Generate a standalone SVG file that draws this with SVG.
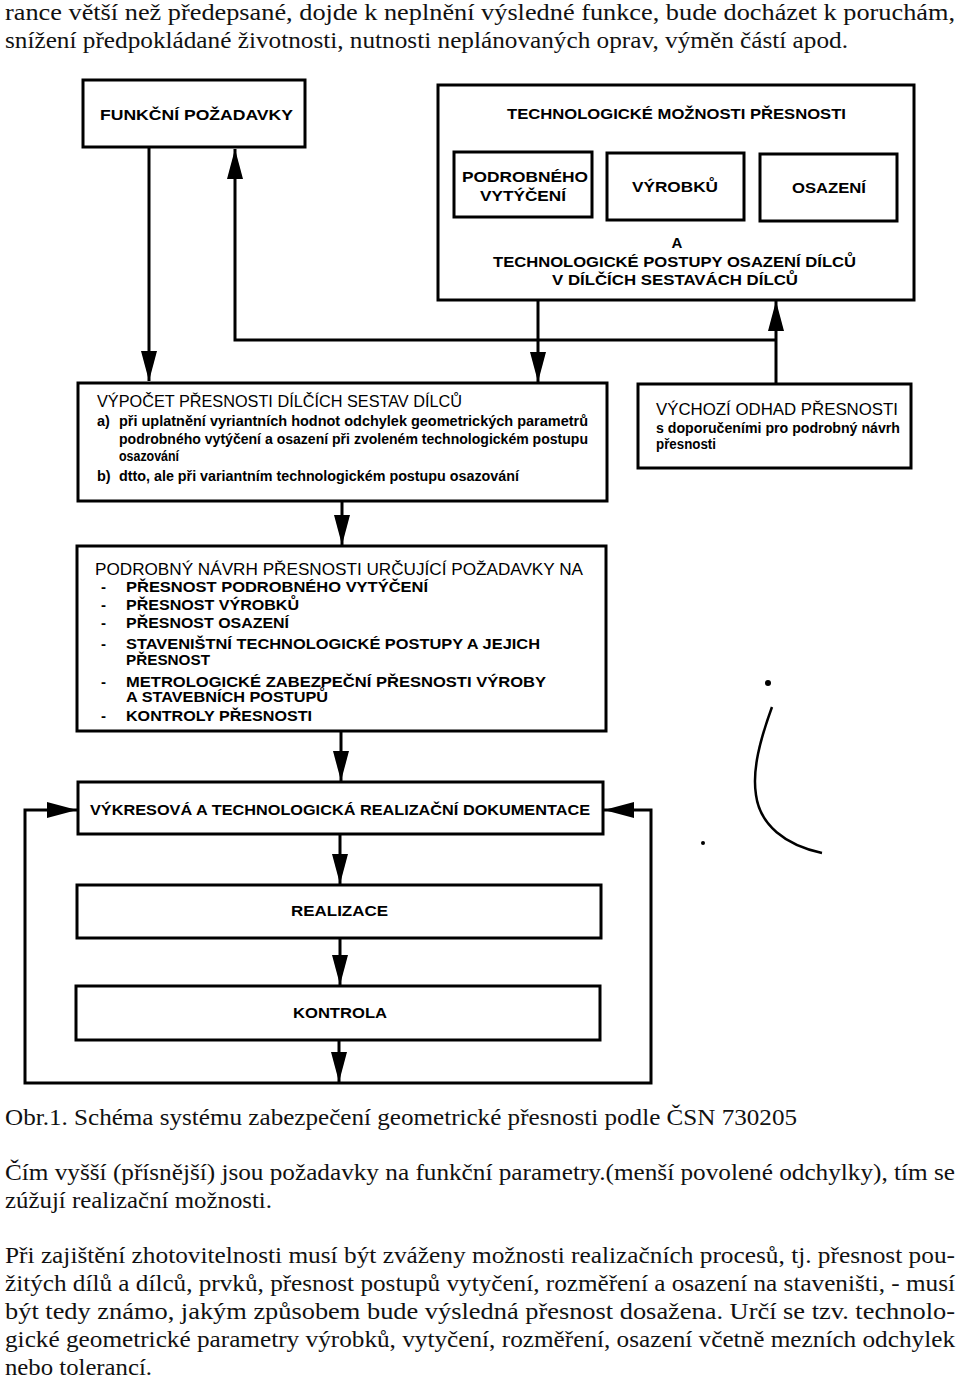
<svg xmlns="http://www.w3.org/2000/svg" width="960" height="1379" viewBox="0 0 960 1379">
<style>
.body{font-family:"Liberation Serif","Times New Roman",serif;font-size:24px;fill:#111}
.b{font-family:"Liberation Sans",Arial,sans-serif;font-weight:bold;font-size:15px;fill:#000}
.s{font-family:"Liberation Sans",Arial,sans-serif;font-weight:bold;font-size:14.5px;fill:#000}
.t{font-family:"Liberation Sans",Arial,sans-serif;font-weight:normal;font-size:16.5px;fill:#000}
.box{fill:#fff;stroke:#000;stroke-width:3}
.con{fill:none;stroke:#000;stroke-width:3}
</style>
<defs>
<marker id="ah" markerWidth="30" markerHeight="16" refX="30" refY="8" orient="auto" markerUnits="userSpaceOnUse">
<path d="M0,0 L30,8 L0,16 z" fill="#000"/>
</marker>
</defs>
<rect width="960" height="1379" fill="#fff"/>

<g id="text-top">
<text class="body" x="5" y="20" textLength="950" lengthAdjust="spacingAndGlyphs">rance větší než předepsané, dojde k neplnění výsledné funkce, bude docházet k poruchám,</text>
<text class="body" x="5" y="48" textLength="843" lengthAdjust="spacingAndGlyphs">snížení předpokládané životnosti, nutnosti neplánovaných oprav, výměn částí apod.</text>
</g>

<g id="connectors">
<path class="con" d="M149,147 V381" marker-end="url(#ah)"/>
<path class="con" d="M776,340 H235 V149" marker-end="url(#ah)"/>
<path class="con" d="M776,384 V301" marker-end="url(#ah)"/>
<path class="con" d="M538,300 V382" marker-end="url(#ah)"/>
<path class="con" d="M342,501 V545" marker-end="url(#ah)"/>
<path class="con" d="M341,731 V781" marker-end="url(#ah)"/>
<path class="con" d="M340,834 V884" marker-end="url(#ah)"/>
<path class="con" d="M340,938 V985" marker-end="url(#ah)"/>
<path class="con" d="M339,1040 V1082" marker-end="url(#ah)"/>
<path class="con" d="M339,1083 H25 V810 H77" marker-end="url(#ah)"/>
<path class="con" d="M339,1083 H651 V810 H604" marker-end="url(#ah)"/>
</g>

<g id="funkcni">
<rect class="box" x="83" y="80" width="222" height="67"/>
<text class="b" x="100" y="120" textLength="193" lengthAdjust="spacingAndGlyphs">FUNKČNÍ POŽADAVKY</text>
</g>

<g id="tech">
<rect class="box" x="438" y="85" width="476" height="215"/>
<text class="b" x="507" y="119" textLength="339" lengthAdjust="spacingAndGlyphs">TECHNOLOGICKÉ MOŽNOSTI PŘESNOSTI</text>
<text class="b" x="677" y="248" text-anchor="middle">A</text>
<text class="b" x="493" y="267" textLength="363" lengthAdjust="spacingAndGlyphs">TECHNOLOGICKÉ POSTUPY OSAZENÍ DÍLCŮ</text>
<text class="b" x="552" y="285" textLength="246" lengthAdjust="spacingAndGlyphs">V DÍLČÍCH SESTAVÁCH DÍLCŮ</text>
</g>
<g id="vytyceni">
<rect class="box" x="454" y="152" width="138" height="65"/>
<text class="b" x="462" y="182" textLength="126" lengthAdjust="spacingAndGlyphs">PODROBNÉHO</text>
<text class="b" x="480" y="201" textLength="86" lengthAdjust="spacingAndGlyphs">VYTÝČENÍ</text>
</g>
<g id="vyrobku">
<rect class="box" x="607" y="153" width="137" height="67"/>
<text class="b" x="632" y="192" textLength="86" lengthAdjust="spacingAndGlyphs">VÝROBKŮ</text>
</g>
<g id="osazeni">
<rect class="box" x="760" y="154" width="137" height="67"/>
<text class="b" x="792" y="193" textLength="74" lengthAdjust="spacingAndGlyphs">OSAZENÍ</text>
</g>

<g id="vypocet">
<rect class="box" x="78" y="383" width="529" height="118"/>
<text class="t" x="97" y="407" textLength="365" lengthAdjust="spacingAndGlyphs">VÝPOČET PŘESNOSTI DÍLČÍCH  SESTAV DÍLCŮ</text>
<text class="s" x="97" y="426">a)</text>
<text class="s" x="119" y="426" textLength="469" lengthAdjust="spacingAndGlyphs">při uplatnění vyriantních hodnot odchylek geometrických parametrů</text>
<text class="s" x="119" y="444" textLength="469" lengthAdjust="spacingAndGlyphs">podrobného vytýčení a osazení při zvoleném technologickém postupu</text>
<text class="s" x="119" y="461" textLength="60" lengthAdjust="spacingAndGlyphs">osazování</text>
<text class="s" x="97" y="481">b)</text>
<text class="s" x="119" y="481" textLength="400" lengthAdjust="spacingAndGlyphs">dtto, ale při variantním technologickém postupu osazování</text>
</g>

<g id="vychozi">
<rect class="box" x="638" y="384" width="273" height="84"/>
<text class="t" x="656" y="415" textLength="242" lengthAdjust="spacingAndGlyphs">VÝCHOZÍ ODHAD PŘESNOSTI</text>
<text class="s" x="656" y="433" textLength="244" lengthAdjust="spacingAndGlyphs">s doporučeními pro podrobný návrh</text>
<text class="s" x="656" y="449" textLength="60" lengthAdjust="spacingAndGlyphs">přesnosti</text>
</g>

<g id="podrobny">
<rect class="box" x="77" y="546" width="529" height="185"/>
<text class="t" x="95" y="575" textLength="488" lengthAdjust="spacingAndGlyphs">PODROBNÝ NÁVRH PŘESNOSTI URČUJÍCÍ POŽADAVKY NA</text>
<text class="b" x="101" y="592">-</text>
<text class="b" x="126" y="592" textLength="302" lengthAdjust="spacingAndGlyphs">PŘESNOST PODROBNÉHO VYTÝČENÍ</text>
<text class="b" x="101" y="610">-</text>
<text class="b" x="126" y="610" textLength="173" lengthAdjust="spacingAndGlyphs">PŘESNOST VÝROBKŮ</text>
<text class="b" x="101" y="628">-</text>
<text class="b" x="126" y="628" textLength="163" lengthAdjust="spacingAndGlyphs">PŘESNOST OSAZENÍ</text>
<text class="b" x="101" y="649">-</text>
<text class="b" x="126" y="649" textLength="414" lengthAdjust="spacingAndGlyphs">STAVENIŠTNÍ TECHNOLOGICKÉ POSTUPY A JEJICH</text>
<text class="b" x="126" y="665" textLength="84" lengthAdjust="spacingAndGlyphs">PŘESNOST</text>
<text class="b" x="101" y="687">-</text>
<text class="b" x="126" y="687" textLength="420" lengthAdjust="spacingAndGlyphs">METROLOGICKÉ ZABEZPEČNÍ PŘESNOSTI VÝROBY</text>
<text class="b" x="126" y="702" textLength="202" lengthAdjust="spacingAndGlyphs">A STAVEBNÍCH POSTUPŮ</text>
<text class="b" x="101" y="721">-</text>
<text class="b" x="126" y="721" textLength="186" lengthAdjust="spacingAndGlyphs">KONTROLY PŘESNOSTI</text>
</g>

<g id="vykresova">
<rect class="box" x="78" y="782" width="525" height="52"/>
<text class="b" x="90" y="815" textLength="500" lengthAdjust="spacingAndGlyphs">VÝKRESOVÁ A TECHNOLOGICKÁ REALIZAČNÍ DOKUMENTACE</text>
</g>
<g id="realizace">
<rect class="box" x="77" y="885" width="524" height="53"/>
<text class="b" x="291" y="916" textLength="97" lengthAdjust="spacingAndGlyphs">REALIZACE</text>
</g>
<g id="kontrola">
<rect class="box" x="76" y="986" width="524" height="54"/>
<text class="b" x="293" y="1018" textLength="94" lengthAdjust="spacingAndGlyphs">KONTROLA</text>
</g>

<g id="scan-marks">
<path d="M772,707 C760,740 752,770 756,795 C760,825 785,845 822,853" fill="none" stroke="#000" stroke-width="2.5"/>
<circle cx="768" cy="683" r="3" fill="#000"/>
<circle cx="703" cy="843" r="2" fill="#000"/>
</g>

<g id="text-bottom">
<text class="body" x="5" y="1125" textLength="792" lengthAdjust="spacingAndGlyphs">Obr.1. Schéma systému zabezpečení geometrické přesnosti podle ČSN 730205</text>
<text class="body" x="5" y="1180" textLength="950" lengthAdjust="spacingAndGlyphs">Čím vyšší (přísnější) jsou požadavky na funkční parametry.(menší povolené odchylky), tím se</text>
<text class="body" x="5" y="1208" textLength="267" lengthAdjust="spacingAndGlyphs">zúžují realizační možnosti.</text>
<text class="body" x="5" y="1263" textLength="950" lengthAdjust="spacingAndGlyphs">Při zajištění zhotovitelnosti musí být zváženy možnosti realizačních procesů, tj. přesnost pou-</text>
<text class="body" x="5" y="1291" textLength="950" lengthAdjust="spacingAndGlyphs">žitých dílů a dílců, prvků, přesnost postupů vytyčení, rozměření a osazení na staveništi, - musí</text>
<text class="body" x="5" y="1319" textLength="950" lengthAdjust="spacingAndGlyphs">být tedy známo, jakým způsobem bude výsledná přesnost dosažena. Určí se tzv. technolo-</text>
<text class="body" x="5" y="1347" textLength="950" lengthAdjust="spacingAndGlyphs">gické geometrické parametry výrobků, vytyčení, rozměření, osazení včetně mezních odchylek</text>
<text class="body" x="5" y="1375" textLength="147" lengthAdjust="spacingAndGlyphs">nebo tolerancí.</text>
</g>
</svg>
